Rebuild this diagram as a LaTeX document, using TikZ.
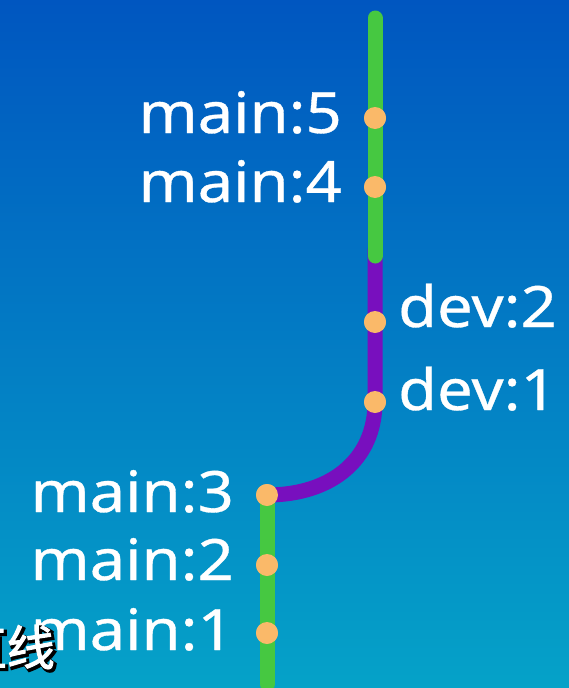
\documentclass[tikz,border=0pt]{standalone}
\usepackage{fontspec}
\setmainfont[FakeStretch=1.11,FakeBold=0.6]{Noto Sans}
\newfontfamily\cjkfont[FakeBold=2]{Noto Sans CJK SC}
\newfontfamily\cjkoutline[FakeBold=7]{Noto Sans CJK SC}
\definecolor{bgtop}{RGB}{0,86,192}
\definecolor{bgmid}{RGB}{2,124,200}
\definecolor{bgbot}{RGB}{5,162,200}
\definecolor{gitgreen}{RGB}{70,200,65}
\definecolor{gitpurple}{RGB}{120,15,190}
\definecolor{dotorange}{RGB}{250,185,105}
\tikzset{
  commit/.style={circle, fill=dotorange, minimum size=22pt, inner sep=0pt},
  lbl/.style={text=white, font=\fontsize{57}{60}\selectfont, inner sep=0pt},
  branchline/.style={line width=15pt, line cap=round},
  subshadow/.style={text=black, font=\cjkoutline\fontsize{48}{52}\selectfont, inner sep=0pt, anchor=east},
  subtext/.style={text=white, font=\cjkfont\fontsize{48}{52}\selectfont, inner sep=0pt, anchor=east}
}
\begin{document}
\begin{tikzpicture}[x=1pt,y=-1pt]
\useasboundingbox (0,0) rectangle (569,688);
\clip (0,0) rectangle (569,688);
\shade[top color=bgtop, middle color=bgmid, bottom color=bgbot] (0,0) rectangle (569,688);

% coordinates
\coordinate (top) at (375,18);
\coordinate (gend) at (375,256);
\coordinate (pstart) at (375,250);
\coordinate (bottom) at (267,684);

% commits
\node[commit] (m5) at (375,118) {};
\node[commit] (m4) at (375,187) {};
\node[commit] (d2) at (375,322) {};
\node[commit] (d1) at (375,402) {};
\node[commit] (m3) at (267,495) {};
\node[commit] (m2) at (267,565) {};
\node[commit] (m1) at (267,633) {};

% branch lines
\draw[branchline, gitpurple] (pstart) -- (d1.center) .. controls (375,459) and (332,495) .. (m3.center);
\draw[branchline, gitgreen] (top) -- (gend);
\draw[branchline, gitgreen] (m3.center) -- (bottom);

% redraw commits on top
\foreach \n in {m5,m4,d2,d1,m3,m2,m1} {
  \fill[dotorange] (\n.center) circle (11pt);
}

% labels
\node[lbl, anchor=base east] (l5) at (342,133) {main:5};
\node[lbl, anchor=base east] (l4) at (342,202) {main:4};
\node[lbl, anchor=base west] (ld2) at (398,327) {dev:2};
\node[lbl, anchor=base west] (ld1) at (398,410) {dev:1};
\node[lbl, anchor=base east] (l3) at (234,512) {main:3};
\node[lbl, anchor=base east] (l2) at (234,580) {main:2};
\node[lbl, anchor=base east] (l1) at (234,650) {main:1};

% subtitle fragment
\node[subshadow] (subsh) at (57,649) {直线};
\node[subtext] (sub) at (55,647) {直线};
\end{tikzpicture}
\end{document}
